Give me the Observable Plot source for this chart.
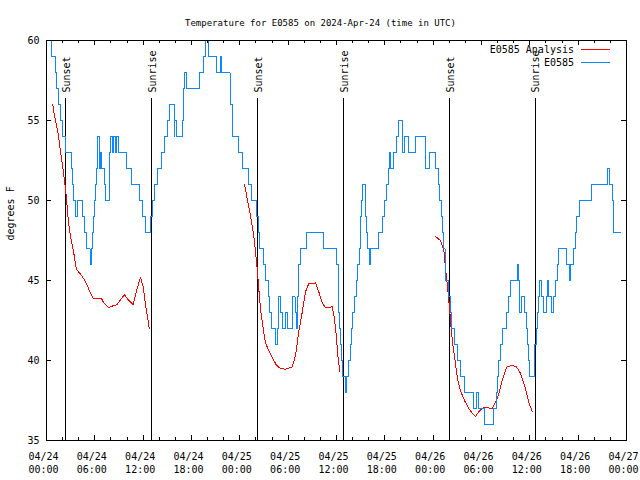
<!DOCTYPE html>
<html><head><meta charset="utf-8">
<script src="https://cdn.jsdelivr.net/npm/d3@7"></script>
<script src="https://cdn.jsdelivr.net/npm/@observablehq/plot@0.6"></script>
<style>
body{margin:0;background:#fff;}
#wrap{position:relative;width:640px;height:480px;font-family:"DejaVu Sans Mono",monospace;color:#000;}
.legtext{position:absolute;font-size:10px;line-height:12px;white-space:pre;text-align:right;}
.legline{position:absolute;height:0;width:29px;}
</style></head><body><div id="wrap"></div>
<script>
const chartTitle = "Temperature for E0585 on 2024-Apr-24 (time in UTC)";
const yLabel = "degrees F";
const xTickHours = [0,6,12,18,24,30,36,42,48,54,60,66,72];
const xTickLabels = ["04/24\n00:00","04/24\n06:00","04/24\n12:00","04/24\n18:00","04/25\n00:00","04/25\n06:00","04/25\n12:00","04/25\n18:00","04/26\n00:00","04/26\n06:00","04/26\n12:00","04/26\n18:00","04/27\n00:00"];
const xMinorHours = [2,4,8,10,14,16,20,22,26,28,32,34,38,40,44,46,50,52,56,58,62,64,68,70];
const yTicks = [35,40,45,50,55,60];
const eventHours = [2.36,13.03,26.23,36.90,50.07,60.66];
const eventLabels = ["Sunset","Sunrise","Sunset","Sunrise","Sunset","Sunrise"];
const seriesNames = ["E0585 Analysis","E0585"];

// observations (hours since 04/24 00:00 UTC, deg F)
const obsHours = [0,0.56,1.12,1.30,1.49,1.68,2.02,2.36,3.07,3.26,
3.39,3.60,3.89,4.51,4.66,4.97,5.40,5.59,5.77,5.87,
5.96,6.08,6.21,6.29,6.37,6.52,6.64,6.74,6.83,7.14,
7.32,7.76,7.86,7.94,8.19,8.35,8.53,8.69,8.98,9.99,
10.55,11.55,11.86,12.35,12.91,13.10,13.41,13.84,14.28,14.71,
14.96,15.21,15.83,15.95,16.08,16.88,17.01,17.17,17.38,18.99,
19.43,19.74,20.05,21.10,21.54,21.72,22.78,22.90,23.03,23.15,
23.83,24.33,25.08,25.39,26.03,26.26,26.44,26.88,27.19,27.52,
27.68,27.93,28.43,28.68,28.84,28.99,29.30,29.73,29.92,30.54,
30.85,31.04,31.22,31.32,31.53,32.28,34.39,36.00,36.19,36.29,
36.37,36.50,36.62,36.75,37.06,37.18,37.49,37.68,37.83,38.02,
38.24,38.45,38.64,38.86,38.98,39.10,39.27,39.54,39.66,39.76,
39.89,40.04,40.16,41.21,41.71,41.96,42.17,42.46,42.58,42.70,
43.08,43.41,43.64,44.19,44.44,44.94,45.81,46.99,47.11,47.55,
48.35,48.66,48.79,49.04,49.20,49.32,49.47,49.59,49.90,50.15,
50.31,50.65,50.98,51.39,51.89,53.01,53.38,53.57,54.37,55.43,
55.86,56.02,56.15,56.36,56.57,57.10,57.39,57.60,58.41,58.63,
58.76,58.93,59.34,59.55,59.67,59.87,60.00,60.62,60.79,60.92,
61.04,61.24,61.41,61.74,62.07,62.23,62.36,62.73,62.90,63.22,
63.40,63.60,64.55,64.89,65.05,65.38,65.67,65.79,66.20,67.66,
69.64,69.93,70.26,70.35,70.42,71.26];
const obsTemps = [60,59,58,57,56,55,54,53,52,51,
50,49,50,49,48,47,46,47,48,49,
50,51,52,53,54,53,52,53,52,51,
50,51,53,54,53,54,53,54,53,52,
51,50,49,48,49,50,51,52,53,54,
55,56,54,55,54,55,57,58,57,58,
59,60,59,58,59,58,57,56,55,54,
53,52,51,50,49,48,47,46,45,44,
43,42,41,42,44,43,42,43,42,44,
43,42,44,46,47,48,47,46,44,43,
42,41,40,39,38,39,40,41,42,43,
44,45,46,47,49,50,51,50,49,48,
47,46,47,48,49,50,51,52,53,52,
53,54,55,53,54,53,54,53,52,53,
52,51,50,49,48,47,46,45,44,43,
42,41,40,39,38,37,38,37,36,37,
38,39,40,41,42,43,44,45,46,45,
43,44,43,42,41,40,39,41,42,43,
44,45,44,43,44,45,44,43,44,45,
46,47,46,45,46,47,48,49,50,51,
52,51,50,49,48,48];

// analysis (null = gap)
const anaHours = [0.78,0.99,1.40,1.82,2.15,2.45,2.73,3.07,3.39,3.72,
4.22,4.63,5.05,5.46,5.80,6.79,7.11,7.73,8.16,8.78,
9.19,9.68,10.22,10.76,11.26,11.67,12.00,12.29,12.58,12.75,
18.0,
24.58,24.92,25.24,25.54,25.73,25.95,26.16,26.35,26.57,26.90,
27.19,27.60,28.02,28.55,29.05,29.67,30.50,30.91,31.32,31.74,
32.15,32.56,33.39,33.80,34.23,34.64,35.47,35.75,36.00,36.16,36.43,
42.0,
48.29,48.91,49.32,49.53,49.74,50.03,50.28,50.49,50.77,51.06,
51.39,51.89,52.42,52.85,53.26,53.67,54.21,54.71,55.33,55.74,
56.15,56.57,56.98,57.19,57.81,58.35,58.84,59.25,59.59,59.87,60.29];
const anaTemps = [56.0,55.3,54.3,52.8,51.6,50.3,48.6,47.5,46.7,45.7,
45.4,45.1,44.7,44.2,43.9,43.9,43.6,43.3,43.4,43.5,
43.8,44.1,43.75,43.5,44.5,45.2,44.6,43.5,42.6,42.0,
null,
51.0,50.1,49.3,48.4,47.8,46.8,45.7,44.5,43.2,42.0,
41.1,40.6,40.2,39.7,39.5,39.45,39.6,40.3,41.8,43.0,
44.3,44.8,44.85,44.3,43.6,43.3,43.35,42.6,41.4,40.3,39.3,
null,
47.75,47.5,46.9,45.8,44.8,43.3,41.7,40.8,39.8,38.75,
38.1,37.5,37.0,36.7,36.5,36.8,37.05,37.05,37.0,37.4,
37.9,38.75,39.4,39.6,39.7,39.6,39.2,38.6,38.0,37.4,36.8];

const RED = "#ff0000", BLUE = "#0a88ff";
const obs = obsHours.map((h,i)=>({h, t: obsTemps[i]}));
const ana = anaHours.map((h,i)=>({h, t: anaTemps[i]}));
const events = eventHours.map((h,i)=>({h, label: eventLabels[i]}));

const W = 640, H = 480, mL = 46, mR = 14, mT = 40, mB = 40;
const fw = W - mL - mR, fh = H - mT - mB;
const eventLineTop = 56.375, eventLabelY = 56.75;

const chart = Plot.plot({
  width: W, height: H,
  marginLeft: mL, marginRight: mR, marginTop: mT, marginBottom: mB,
  style: {fontFamily: "DejaVu Sans Mono, monospace", fontSize: "10px", background: "white", color: "black", overflow: "visible"},
  x: {domain: [0,72]},
  y: {domain: [35,60]},
  marks: [
    Plot.ruleX(events, {x: "h", y1: 35, y2: eventLineTop, stroke: "black", shapeRendering: "crispEdges"}),
    Plot.text(events, {x: "h", y: eventLabelY, text: "label", rotate: -90, textAnchor: "start", lineAnchor: "middle", dx: 1, fontSize: 10}),
    Plot.line(ana, {x: "h", y: "t", stroke: RED, strokeWidth: 1, shapeRendering: "crispEdges"}),
    Plot.line(obs, {x: "h", y: "t", stroke: BLUE, strokeWidth: 1, curve: "step-after", shapeRendering: "crispEdges"}),
    Plot.tickX(xTickHours, {x: d=>d, insetTop: fh-5, stroke:"black", shapeRendering:"crispEdges"}),
    Plot.tickX(xTickHours, {x: d=>d, insetBottom: fh-5, stroke:"black", shapeRendering:"crispEdges"}),
    Plot.tickX(xMinorHours, {x: d=>d, insetTop: fh-3, stroke:"black", shapeRendering:"crispEdges"}),
    Plot.tickX(xMinorHours, {x: d=>d, insetBottom: fh-3, stroke:"black", shapeRendering:"crispEdges"}),
    Plot.tickY(yTicks, {y: d=>d, insetRight: fw-5, stroke:"black", shapeRendering:"crispEdges"}),
    Plot.tickY(yTicks, {y: d=>d, insetLeft: fw-5, stroke:"black", shapeRendering:"crispEdges"}),
    Plot.frame({stroke: "black", shapeRendering: "crispEdges"}),
    Plot.axisX({ticks: xTickHours, tickSize: 0, tickPadding: 10, lineHeight: 1.3, dx: -3, tickFormat: d => xTickLabels[Math.round(d/6)], label: null}),
    Plot.axisY({ticks: yTicks, tickSize: 0, tickPadding: 7, label: null}),
    Plot.text([chartTitle], {frameAnchor: "top", dy: -21, dx: -16, text: d=>d, fontSize: 9}),
    Plot.text([yLabel], {frameAnchor: "left", dx: -36, rotate: -90, text: d=>d, fontSize: 10})
  ]
});
const wrap = document.getElementById("wrap");
wrap.appendChild(chart);

// legend (top-right, inside frame)
const legRows = [{name: seriesNames[0], color: RED, y: 50}, {name: seriesNames[1], color: BLUE, y: 63}];
for (const r of legRows) {
  const t = document.createElement("div");
  t.className = "legtext";
  t.textContent = r.name;
  t.style.right = (W - 574) + "px";
  t.style.top = (r.y - 6) + "px";
  wrap.appendChild(t);
  const l = document.createElement("div");
  l.className = "legline";
  l.style.left = "581px";
  l.style.top = (r.y - 1) + "px";
  l.style.borderTop = "1px solid " + r.color;
  wrap.appendChild(l);
}
</script></body></html>
